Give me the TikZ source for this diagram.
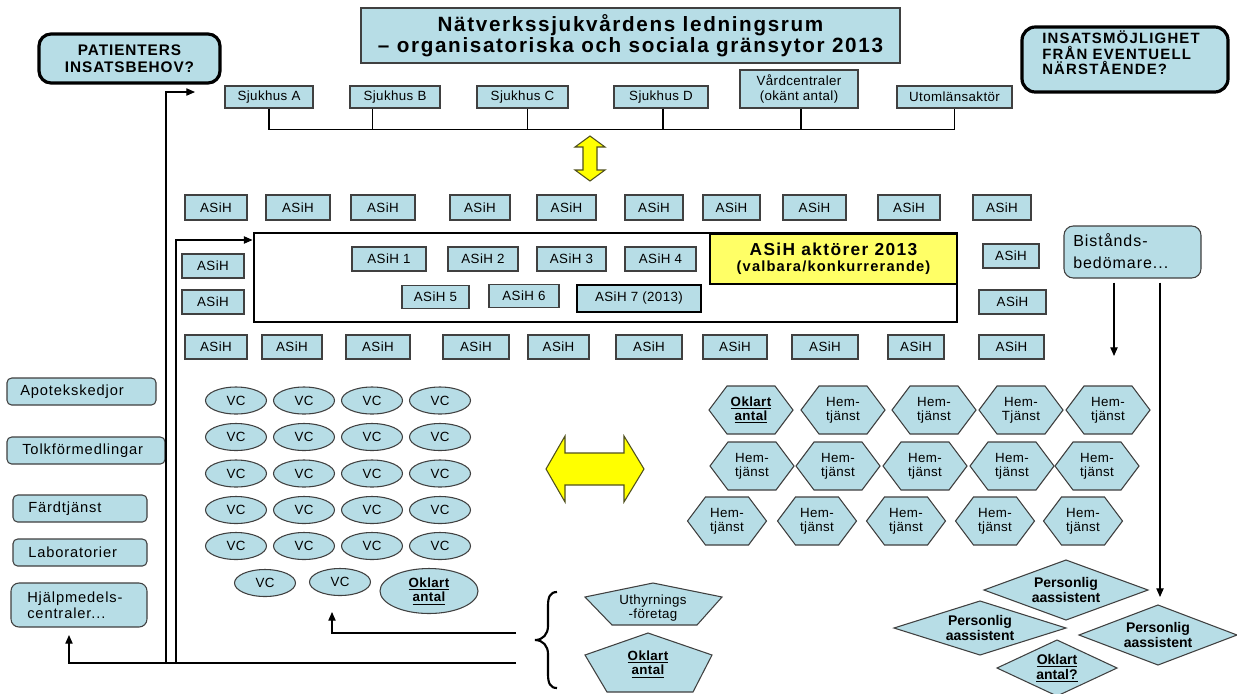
\documentclass[tikz,border=0pt]{standalone}
\usepackage{fontspec}
\setmainfont{Liberation Sans}[LetterSpace=3]
\usetikzlibrary{arrows.meta,shapes.geometric}
\definecolor{lb}{RGB}{183,221,230}
\definecolor{bord}{RGB}{64,64,64}
\definecolor{ylw}{RGB}{255,255,102}
\definecolor{ylwA}{RGB}{255,255,0}
\definecolor{ylwB}{RGB}{80,80,30}
\newcommand\fsz[2]{\fontsize{#1}{#2}\selectfont}
\newcommand\lspc[1]{\addfontfeatures{LetterSpace=#1}}
\newcommand\hexa[5]{%
  \filldraw[shp] (#2-#4,#3) -- (#2-#4+18,#3-24) -- (#2+#4-18,#3-24) -- (#2+#4,#3) -- (#2+#4-18,#3+24) -- (#2-#4+18,#3+24) -- cycle;
  \node[lbl] (#1) at (#2,#3) {#5};}
\newcommand\dmd[6]{%
  \filldraw[shp] (#2-#4,#3) -- (#2,#3-#5) -- (#2+#4,#3) -- (#2,#3+#5) -- cycle;
  \node[dlbl] (#1) at (#2,#3) {#6};}
\begin{document}
\begin{tikzpicture}[x=0.75pt,y=-0.75pt,
  ln/.style={draw=black, line width=0.8pt},
  arr/.style={ln, -{Triangle[length=6.5pt,width=5.5pt]}},
  bx/.style 2 args={draw=bord, fill=lb, line width=0.8pt, inner sep=0pt, minimum width=#1*0.75pt, minimum height=#2*0.75pt, font=\fsz{10}{10.8}, align=center},
  tbx/.style 2 args={bx={#1}{#2}, line width=2pt, draw=black},
  vce/.style={ellipse, draw=bord, fill=lb, line width=0.8pt, inner sep=0pt, minimum width=61*0.75pt, minimum height=27*0.75pt, font=\fsz{10}{10.8}, align=center},
  shp/.style={draw=bord, fill=lb, line width=0.8pt},
  yarr/.style={draw=ylwB, fill=ylwA, line width=0.8pt},
  lbl/.style={font=\fsz{10}{10.8}, align=center, inner sep=0pt},
  dlbl/.style={font=\fsz{10.5}{11.25}\bfseries\lspc{0}, align=center, inner sep=0pt},
  lbox/.style n args={3}{draw=bord, fill=lb, line width=0.8pt, rounded corners=#3, minimum width=#1*0.75pt, minimum height=#2*0.75pt, inner sep=0pt},
  ltxt/.style={anchor=west, align=left, inner sep=0pt, font=\fsz{11}{12}\lspc{6}}
]
\useasboundingbox (0,0) rectangle (1237,693);
\fill[white] (0,0) rectangle (1237,693);

% title and corner boxes
\node[bx={539}{55}, font=\fsz{15.5}{15.75}\bfseries\lspc{8}] (title) at (630.5,35.5) {Nätverkssjukvårdens ledningsrum\\– organisatoriska och sociala gränsytor 2013};
\node[draw=black, line width=2.4pt, fill=lb, rounded corners=9pt, minimum width=181*0.75pt, minimum height=49*0.75pt, inner sep=0pt, align=center, font=\fsz{11.5}{12.5}\bfseries\lspc{6}] (pat) at (129.5,58.5) {PATIENTERS\\INSATSBEHOV?};
\node[draw=black, line width=2.4pt, fill=lb, rounded corners=10pt, minimum width=206*0.75pt, minimum height=65*0.75pt, inner sep=0pt] (ins) at (1125,59.5) {};
\node[anchor=west, align=left, inner sep=0pt, font=\fsz{11.2}{11.6}\bfseries\lspc{8}] (insT) at (1042,53) {INSATSMÖJLIGHET\\FRÅN EVENTUELL\\NÄRSTÅENDE?};

% hospitals
\node[bx={88}{22}] (sA) at (269,97) {Sjukhus A};
\node[bx={90}{22}] (sB) at (395,97) {Sjukhus B};
\node[bx={91}{22}] (sC) at (522.5,97) {Sjukhus C};
\node[bx={94}{22}] (sD) at (661,97) {Sjukhus D};
\node[bx={118}{38}] (vard) at (799,89) {Vårdcentraler\\(okänt antal)};
\node[bx={115}{22}] (ut) at (954.5,97) {Utomlänsaktör};
\draw[ln] (sA.south) -- ++(0,21) -| (ut.south);
\draw[ln] ([xshift=-17pt]sB.south) -- ++(0,21);
\draw[ln] ([xshift=3.5pt]sC.south) -- ++(0,21);
\draw[ln] ([xshift=1.5pt]sD.south) -- ++(0,21);
\draw[ln] ([xshift=1.5pt]vard.south) -- ++(0,21);

% yellow arrows
\filldraw[yarr] (590,136) -- (605,147) -- (597,147) -- (597,170) -- (605,170) -- (590,181) -- (575,170) -- (583,170) -- (583,147) -- (575,147) -- cycle;
\filldraw[yarr] (546,469) -- (565,436) -- (565,453) -- (624,453) -- (624,436) -- (644,469) -- (624,502) -- (624,485) -- (565,485) -- (565,502) -- cycle;

% ASiH rows
\foreach \i/\x/\w in {1/216/62,2/298/64,3/383/64,4/480/60,5/566.5/59,6/654/58,7/731.5/57,8/814.5/63,9/909/62,10/1002/58}
  \node[bx={\w}{25}] (at\i) at (\x,207.5) {ASiH};
\foreach \i/\x/\w in {1/216/62,2/292/60,3/378/64,4/476/66,5/558.5/61,6/649/66,7/735/64,8/825/66,9/916/56,10/1011.5/65}
  \node[bx={\w}{24}] (ab\i) at (\x,347) {ASiH};
\node[bx={62}{24}] (al1) at (213,266) {ASiH};
\node[bx={62}{24}] (al2) at (213,302) {ASiH};
\node[bx={56}{24}] (ar1) at (1011,256) {ASiH};
\node[bx={67}{24}] (ar2) at (1012.5,302) {ASiH};

\node[draw=black, line width=2.2pt, minimum width=703*0.75pt, minimum height=89*0.75pt, inner sep=0pt] (big) at (605.5,277.5) {};
\node[draw=black, line width=2.2pt, fill=ylw, minimum width=247*0.75pt, minimum height=50*0.75pt, inner sep=0pt, align=center, font=\fsz{11}{12}\bfseries\lspc{8}] (yl) at (833.5,259) {{\fsz{13}{12}ASiH aktörer 2013}\\(valbara/konkurrerande)};
\node[bx={74}{24}] (a1) at (389,259) {ASiH 1};
\node[bx={70}{24}] (a2) at (483,259) {ASiH 2};
\node[bx={69}{24}] (a3) at (571.5,259) {ASiH 3};
\node[bx={71}{24}] (a4) at (660.5,259) {ASiH 4};
\node[bx={67}{23}] (a5) at (435.5,297) {ASiH 5};
\node[bx={70}{23}] (a6) at (524,296) {ASiH 6};
\node[tbx={124}{27}] (a7) at (639,298.5) {ASiH 7 (2013)};

% Bistands
\node[draw=bord, fill=lb, line width=0.8pt, rounded corners=7pt, minimum width=137*0.75pt, minimum height=52*0.75pt, inner sep=0pt] (bist) at (1132.5,252) {};
\node[anchor=west, align=left, inner sep=0pt, font=\fsz{12}{16.5}\lspc{6}] (bistT) at (1073,251) {Bistånds-\\bedömare...};
\coordinate (bistIn) at (1114,356);
\coordinate (dArr) at (1160,597);
\draw[arr] (bist.south -| 1114,0) ++(0,4) -- (bistIn);
\draw[ln] (bist.south -| 1160,0) ++(0,4) -- (1160,590);
\draw[arr] (1160,589) -- (dArr);

% left column
\node[lbox={149}{27}{3.5pt}] (apo) at (81.5,391.5) {};
\node[ltxt] (apoT) at (20,391.5) {Apotekskedjor};
\node[lbox={158}{27}{3.5pt}] (tolk) at (86,450.5) {};
\node[ltxt] (tolkT) at (22,450.5) {Tolkförmedlingar};
\node[lbox={134}{27}{3.5pt}] (fard) at (80,508.5) {};
\node[ltxt] (fardT) at (28,508.5) {Färdtjänst};
\node[lbox={134}{27}{3.5pt}] (lab) at (80,552.5) {};
\node[ltxt] (labT) at (28,552.5) {Laboratorier};
\node[lbox={136}{44}{6pt}] (hj) at (79,605) {};
\node[ltxt] (hjT) at (27,605) {Hjälpmedels-\\centraler...};

% connectors on the left
\coordinate (jO) at (166,663);
\coordinate (jI) at (176,663);
\coordinate (brA) at (516,633);
\coordinate (brB) at (516,663);
\coordinate (patIn) at (195,92);
\coordinate (hjIn) at (69,635);
\coordinate (vcIn) at (332,612);
\draw[arr] (jO) |- (patIn);
\draw[arr] (jI) |- (big.west |- 0,240);
\draw[arr] (brB) -| (hjIn);
\draw[arr] (brA) -| (vcIn);

% VC ellipses
\foreach \r/\y in {1/400.5,2/437,3/473.5,4/510,5/546}
  \foreach \c/\x in {1/236,2/304,3/372,4/440}
    \node[vce] (vc\r\c) at (\x,\y) {VC};
\node[vce] (vc61) at (265,583) {VC};
\node[vce] (vc62) at (340,582) {VC};
\node[vce, minimum width=98*0.75pt, minimum height=45*0.75pt, font=\fsz{10}{11}\bfseries] (vcok) at (429,591) {\underline{Oklart}\\\underline{antal}};

% brace and pentagons
\draw[line width=1.6pt] (557,592) .. controls (550,592) and (548,597) .. (548,606) -- (548,626) .. controls (548,634) and (543,640) .. (535,640) .. controls (543,640) and (548,646) .. (548,654) -- (548,674) .. controls (548,683) and (550,688) .. (557,688);
\filldraw[shp] (653,583) -- (722,597) -- (697,625) -- (612,625) -- (585,597) -- cycle;
\node[lbl] (uth) at (653,608) {Uthyrnings\\-företag};
\filldraw[shp] (648,633) -- (712,655) -- (693,692) -- (607,692) -- (585,655) -- cycle;
\node[lbl, font=\fsz{10}{11}\bfseries] (okp) at (648,664) {\underline{Oklart}\\\underline{antal}};

% hexagons
\hexa{h11}{751}{410}{42}{\bfseries\underline{Oklart}\\\bfseries\underline{antal}}
\hexa{h12}{843}{410}{42}{Hem-\\tjänst}
\hexa{h13}{934}{410}{42}{Hem-\\tjänst}
\hexa{h14}{1021}{410}{42}{Hem-\\Tjänst}
\hexa{h15}{1108}{410}{42}{Hem-\\tjänst}
\hexa{h21}{752}{466}{42}{Hem-\\tjänst}
\hexa{h22}{838}{466}{42}{Hem-\\tjänst}
\hexa{h23}{925}{466}{42}{Hem-\\tjänst}
\hexa{h24}{1012}{466}{42}{Hem-\\tjänst}
\hexa{h25}{1097}{466}{42}{Hem-\\tjänst}
\hexa{h31}{727}{521}{39.5}{Hem-\\tjänst}
\hexa{h32}{817}{521}{39.5}{Hem-\\tjänst}
\hexa{h33}{906}{521}{39.5}{Hem-\\tjänst}
\hexa{h34}{995}{521}{39.5}{Hem-\\tjänst}
\hexa{h35}{1083}{521}{39.5}{Hem-\\tjänst}

% diamonds
\dmd{d1}{1066}{590}{82}{30}{Personlig\\aassistent}
\dmd{d2}{980}{628}{86}{27}{Personlig\\aassistent}
\dmd{d3}{1158}{635}{79}{30}{Personlig\\aassistent}
\dmd{d4}{1057}{668}{60}{28}{\underline{Oklart}\\\underline{antal?}}
\end{tikzpicture}
\end{document}
